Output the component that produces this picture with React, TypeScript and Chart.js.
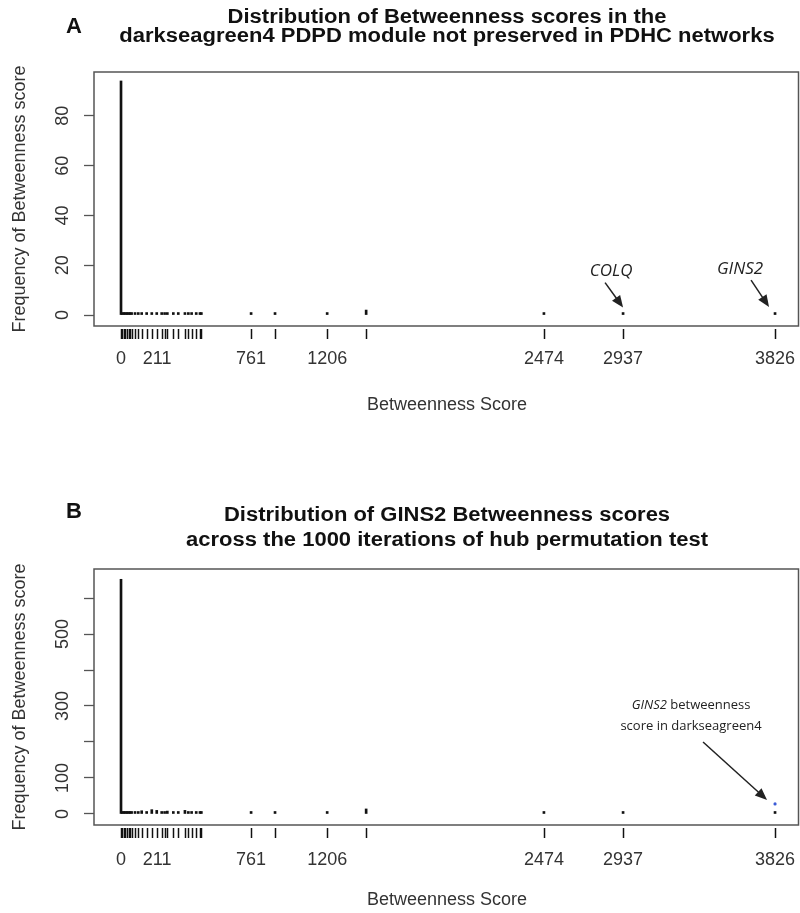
import { useEffect, useRef } from 'react';
import { Chart, registerables } from 'chart.js';

Chart.register(...registerables);

const FONT = '"Liberation Sans", Arial, sans-serif';
const NOTE_FONT = '"Open Sans", "Liberation Sans", sans-serif';
Chart.defaults.font.family = FONT;

// unique betweenness scores found in the module (also used for the rug)
const scores = [0, 8, 17, 26, 35, 44, 53, 62, 82, 101, 121, 150, 180, 209, 238, 255, 271, 306, 335,
    374, 394, 413, 440, 462, 470, 761, 901, 1206, 1434, 2474, 2937, 3826];
// how often each score shows up in the darkseagreen4 module
const freqModule = [94, 1, 1, 1, 1, 1, 1, 1, 1, 1, 1, 1, 1, 1, 1, 1, 1, 1, 1,
    1, 1, 1, 1, 1, 1, 1, 1, 1, 2, 1, 1, 1];
// how often each score shows up for GINS2 across 1000 permutations
const freqPermutation = [652, 4, 3, 5, 2, 6, 3, 4, 7, 3, 9, 4, 12, 10, 5, 3, 8, 4, 6,
    10, 3, 7, 4, 5, 2, 3, 3, 3, 14, 2, 3, 3];

const xTicks = [0, 211, 761, 1206, 2474, 2937, 3826];
const yTicksA = [0, 20, 40, 60, 80];
const yLabelsA = ['0', '20', '40', '60', '80'];
const yTicksB = [0, 100, 200, 300, 400, 500, 600];
const yLabelsB = ['0', '100', '', '300', '', '500', ''];

// GINS2 score in darkseagreen4, marked in blue in panel B
const observedScore = 3826;
const observedHeight = 28;

const X_MIN = -158;
const X_MAX = 3972;

type Seg = { t: string; italic?: boolean };
type Note = {
    lines: Seg[][];
    size: number;
    score: number;
    value: number;
    dx: number;
    tail: [number, number];
    textAt: [number, number];
    lineGap: number;
};

type PanelProps = {
    offset: number;
    height: number;
    padTop: number;
    xAxisHeight: number;
    letter: string;
    letterY: number;
    titleLines: string[];
    titleYs: number[];
    freq: number[];
    yTicks: number[];
    yLabels: string[];
    yMin: number;
    yMax: number;
    yTickPad: number;
    xTickPad: number;
    xTitlePad: number;
    notes: Note[];
    observed: boolean;
};

function drawArrow(c: CanvasRenderingContext2D, sx: number, sy: number, tx: number, ty: number) {
    const a = Math.atan2(ty - sy, tx - sx);
    const len = 12;
    const half = 5;
    c.strokeStyle = '#222';
    c.fillStyle = '#222';
    c.lineWidth = 1.5;
    c.beginPath();
    c.moveTo(sx, sy);
    c.lineTo(tx - Math.cos(a) * len * 0.8, ty - Math.sin(a) * len * 0.8);
    c.stroke();
    c.beginPath();
    c.moveTo(tx, ty);
    c.lineTo(tx - Math.cos(a) * len - Math.sin(a) * half, ty - Math.sin(a) * len + Math.cos(a) * half);
    c.lineTo(tx - Math.cos(a) * len + Math.sin(a) * half, ty - Math.sin(a) * len - Math.cos(a) * half);
    c.closePath();
    c.fill();
}

function Panel(p: PanelProps) {
    const chartRef = useRef<HTMLCanvasElement | null>(null);

    useEffect(() => {
        const ctx = chartRef.current?.getContext('2d');
        if (!ctx) return;

        const decor = {
            id: 'decor',
            afterDraw(chart: Chart) {
                const c = chart.ctx;
                const { left, right, top, bottom } = chart.chartArea;
                const xs = chart.scales.x;
                const ys = chart.scales.y;
                c.save();

                // plot box
                c.strokeStyle = '#555';
                c.lineWidth = 1.5;
                c.strokeRect(left, top, right - left - 1.5, bottom - top);

                // rug under the axis
                c.strokeStyle = '#111';
                c.lineWidth = 1.5;
                scores.forEach((s) => {
                    const x = Math.round(xs.getPixelForValue(s)) + 0.5;
                    c.beginPath();
                    c.moveTo(x, bottom + 3);
                    c.lineTo(x, bottom + 13);
                    c.stroke();
                });

                // titles (the original is slightly stretched sideways)
                c.fillStyle = '#111';
                c.textAlign = 'center';
                c.textBaseline = 'middle';
                c.font = `bold 20px ${FONT}`;
                p.titleLines.forEach((t, i) => {
                    c.save();
                    c.translate((left + right) / 2, p.titleYs[i]);
                    c.scale(1.1, 1);
                    c.fillText(t, 0, 0);
                    c.restore();
                });
                c.font = `bold 22px ${FONT}`;
                c.fillText(p.letter, 74, p.letterY);

                // annotations
                p.notes.forEach((n) => {
                    const tx = xs.getPixelForValue(n.score) + n.dx;
                    const ty = ys.getPixelForValue(n.value);
                    drawArrow(c, tx + n.tail[0], ty + n.tail[1], tx, ty);
                    const fontOf = (s: Seg) => `${s.italic ? 'italic ' : ''}${n.size}px ${NOTE_FONT}`;
                    c.fillStyle = '#222';
                    c.textAlign = 'left';
                    c.textBaseline = 'middle';
                    n.lines.forEach((line, li) => {
                        let total = 0;
                        line.forEach((s) => {
                            c.font = fontOf(s);
                            total += c.measureText(s.t).width;
                        });
                        let x = tx + n.textAt[0] - total / 2;
                        const y = ty + n.textAt[1] + li * n.lineGap;
                        line.forEach((s) => {
                            c.font = fontOf(s);
                            c.fillText(s.t, x, y);
                            x += c.measureText(s.t).width;
                        });
                    });
                });

                c.restore();
            },
        };

        const datasets: any[] = [
            {
                type: 'bar',
                data: scores.map((s, i) => ({ x: s, y: p.freq[i] })),
                backgroundColor: '#111',
                barThickness: 2,
                minBarLength: 2.5,
                grouped: false,
            },
        ];
        if (p.observed) {
            datasets.push({
                type: 'scatter',
                data: [{ x: observedScore, y: observedHeight }],
                backgroundColor: '#3b5bd6',
                borderWidth: 0,
                pointRadius: 1.6,
                pointHoverRadius: 0,
            });
        }

        const chart = new Chart(ctx, {
            type: 'bar',
            data: { datasets },
            options: {
                animation: false,
                responsive: false,
                events: [],
                layout: { autoPadding: false, padding: { top: p.padTop, left: 0, right: 0, bottom: 0 } },
                plugins: {
                    legend: { display: false },
                    tooltip: { enabled: false },
                },
                scales: {
                    x: {
                        type: 'linear',
                        min: X_MIN,
                        max: X_MAX,
                        offset: false,
                        afterBuildTicks: (s: any) => {
                            s.ticks = xTicks.map((v) => ({ value: v }));
                        },
                        afterFit: (s: any) => {
                            s.height = p.xAxisHeight;
                            s.paddingLeft = 0;
                            s.paddingRight = 0;
                        },
                        grid: { display: false, drawTicks: false, offset: false },
                        border: { display: false },
                        ticks: {
                            autoSkip: false,
                            maxRotation: 0,
                            padding: p.xTickPad,
                            font: { size: 18 },
                            color: '#333',
                            callback: (v: any) => String(v),
                        },
                        title: {
                            display: true,
                            text: 'Betweenness Score',
                            font: { size: 18 },
                            color: '#333',
                            padding: { top: 0, bottom: p.xTitlePad },
                        },
                    },
                    y: {
                        type: 'linear',
                        min: p.yMin,
                        max: p.yMax,
                        afterBuildTicks: (s: any) => {
                            s.ticks = p.yTicks.map((v) => ({ value: v }));
                        },
                        afterFit: (s: any) => {
                            s.width = 94;
                            s.paddingTop = 0;
                            s.paddingBottom = 0;
                        },
                        grid: { drawOnChartArea: false, drawTicks: true, tickLength: 10, tickColor: '#555', tickWidth: 1.3 },
                        border: { display: false },
                        ticks: {
                            minRotation: 90,
                            maxRotation: 90,
                            crossAlign: 'center',
                            padding: p.yTickPad,
                            font: { size: 18 },
                            color: '#333',
                            callback: (_v: any, i: number) => p.yLabels[i],
                        },
                        title: {
                            display: true,
                            text: 'Frequency of Betweenness score',
                            font: { size: 18 },
                            color: '#333',
                            padding: { top: 9, bottom: 0 },
                        },
                    },
                },
            },
            plugins: [decor],
        } as any);

        return () => {
            chart.destroy();
        };
    }, []);

    return (
        <canvas
            ref={chartRef}
            width={800}
            height={p.height}
            style={{ position: 'absolute', left: 0, top: p.offset, width: 800, height: p.height }}
        ></canvas>
    );
}

const notesA: Note[] = [
    { lines: [[{ t: 'COLQ', italic: true }]], size: 17, score: 2937, value: 3, dx: 0, tail: [-18, -25], textAt: [-12, -36], lineGap: 0 },
    { lines: [[{ t: 'GINS2', italic: true }]], size: 17, score: 3826, value: 3.2, dx: -6, tail: [-18, -27], textAt: [-29, -38], lineGap: 0 },
];

const notesB: Note[] = [
    {
        lines: [
            [{ t: 'GINS2', italic: true }, { t: ' betweenness' }],
            [{ t: 'score in darkseagreen4' }],
        ],
        size: 13,
        score: 3826,
        value: 39,
        dx: -8,
        tail: [-64, -58],
        textAt: [-76, -95],
        lineGap: 21,
    },
];

export default function App() {
    return (
        <div style={{ position: 'absolute', left: 0, top: 0, width: 800, height: 913, background: '#fff' }}>
            <Panel
                offset={0}
                height={456}
                padTop={72}
                xAxisHeight={130}
                letter="A"
                letterY={27}
                titleLines={['Distribution of Betweenness scores in the', 'darkseagreen4 PDPD module not preserved in PDHC networks']}
                titleYs={[17, 36]}
                freq={freqModule}
                yTicks={yTicksA}
                yLabels={yLabelsA}
                yMin={-4.4}
                yMax={97.6}
                yTickPad={11}
                xTickPad={22}
                xTitlePad={40}
                notes={notesA}
                observed={false}
            />
            <Panel
                offset={456}
                height={457}
                padTop={113}
                xAxisHeight={88}
                letter="B"
                letterY={56}
                titleLines={['Distribution of GINS2 Betweenness scores', 'across the 1000 iterations of hub permutation test']}
                titleYs={[59, 84]}
                freq={freqPermutation}
                yTicks={yTicksB}
                yLabels={yLabelsB}
                yMin={-30.6}
                yMax={680.6}
                yTickPad={6}
                xTickPad={24}
                xTitlePad={2}
                notes={notesB}
                observed={true}
            />
        </div>
    );
}
